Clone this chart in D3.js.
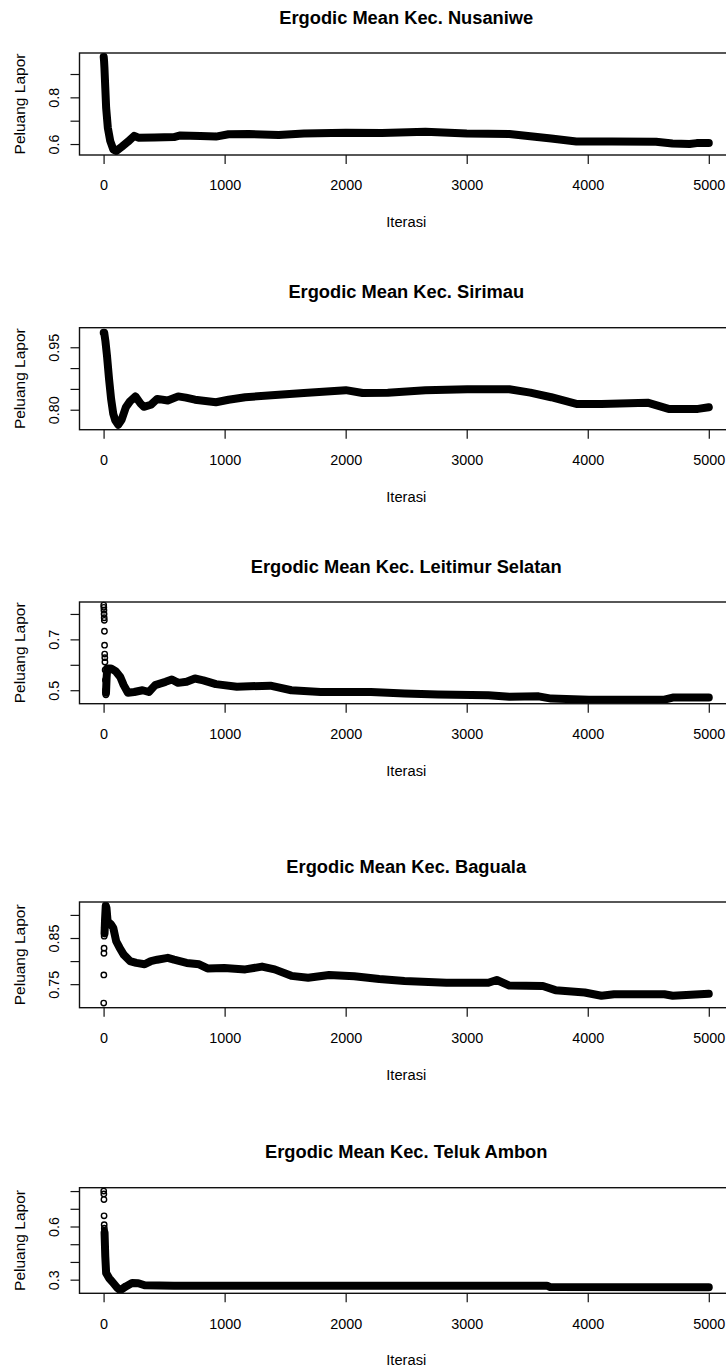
<!DOCTYPE html>
<html lang="en">
<head>
    <meta charset="UTF-8">
    <title>Ergodic Mean Peluang Lapor</title>
    <script src="https://d3js.org/d3.v7.min.js"></script>
    <style>
        body {
            margin: 0;
            padding: 0;
            background-color: #fff;
        }
        text {
            font-family: "Liberation Sans", Arial, sans-serif;
            fill: #000;
        }
        .title {
            font-weight: bold;
            font-size: 18.3px;
        }
        .tick text {
            font-size: 14.4px;
        }
        .xlabel {
            font-size: 14.7px;
        }
        .ylabel {
            font-size: 15.5px;
        }
        .tick line {
            stroke: #111;
            stroke-width: 1.2px;
        }
        .box {
            fill: none;
            stroke: #111;
            stroke-width: 1.4px;
        }
        .band {
            fill: none;
            stroke: #000;
            stroke-width: 8px;
            stroke-linejoin: round;
            stroke-linecap: round;
        }
        .early {
            fill: none;
            stroke: #000;
            stroke-width: 1.4px;
        }
    </style>
</head>
<body>
    <svg id="chart" width="726" height="1372"></svg>

    <script>
        // --- data: [iteration, ergodic mean] ---
        const titles = [
            "Ergodic Mean Kec. Nusaniwe",
            "Ergodic Mean Kec. Sirimau",
            "Ergodic Mean Kec. Leitimur Selatan",
            "Ergodic Mean Kec. Baguala",
            "Ergodic Mean Kec. Teluk Ambon"
        ];

        const xTicks = [0, 1000, 2000, 3000, 4000, 5000];

        const nusaniwe = [
            [1, 0.973], [4, 0.955], [7, 0.927], [14, 0.841], [21, 0.756], [35, 0.67],
            [55, 0.613], [80, 0.577], [104, 0.57], [149, 0.588], [201, 0.61], [253, 0.635],
            [287, 0.627], [420, 0.628], [582, 0.63], [634, 0.637], [800, 0.634], [928, 0.632],
            [1032, 0.642], [1200, 0.643], [1447, 0.639], [1655, 0.645], [2001, 0.648],
            [2300, 0.647], [2659, 0.653], [3000, 0.645], [3352, 0.643], [3525, 0.633],
            [3698, 0.624], [3906, 0.611], [4200, 0.611], [4564, 0.61], [4700, 0.602],
            [4841, 0.6], [4900, 0.604], [5000, 0.604]
        ];

        const sirimau = [
            [1, 0.985], [5, 0.985], [15, 0.965], [28, 0.93], [45, 0.874], [62, 0.826],
            [80, 0.79], [97, 0.774], [121, 0.764], [149, 0.776], [184, 0.806], [218, 0.82],
            [263, 0.832], [305, 0.815], [332, 0.807], [391, 0.812], [443, 0.826], [530, 0.822],
            [616, 0.832], [680, 0.829], [755, 0.824], [928, 0.818], [1032, 0.824], [1170, 0.83],
            [1447, 0.836], [1655, 0.84], [2001, 0.847], [2140, 0.84], [2348, 0.841],
            [2659, 0.847], [3005, 0.849], [3352, 0.849], [3525, 0.841], [3698, 0.83],
            [3906, 0.814], [4113, 0.814], [4494, 0.817], [4668, 0.802], [4910, 0.802],
            [5000, 0.806]
        ];

        const leitimur = [
            [20, 0.49], [25, 0.55], [30, 0.585], [62, 0.585], [100, 0.575], [138, 0.552],
            [166, 0.52], [201, 0.49], [253, 0.493], [322, 0.5], [374, 0.493], [426, 0.52],
            [512, 0.533], [564, 0.542], [616, 0.529], [686, 0.533], [755, 0.546], [824, 0.539],
            [928, 0.524], [1101, 0.514], [1378, 0.518], [1551, 0.5], [1794, 0.493],
            [2209, 0.493], [2486, 0.487], [2763, 0.483], [3179, 0.48], [3352, 0.474],
            [3594, 0.476], [3698, 0.467], [4010, 0.463], [4633, 0.463], [4702, 0.471],
            [5000, 0.471]
        ];
        const leitimurEarly = [
            [1, 0.835], [2, 0.826], [3, 0.815], [4, 0.8], [5, 0.785], [6, 0.775], [7, 0.732],
            [8, 0.677], [9, 0.642], [10, 0.628], [11, 0.611], [13, 0.58], [15, 0.54],
            [17, 0.5], [19, 0.482]
        ];

        const baguala = [
            [8, 0.86], [12, 0.89], [18, 0.92], [24, 0.915], [35, 0.88], [45, 0.883],
            [60, 0.88], [80, 0.872], [104, 0.843], [132, 0.829], [166, 0.814], [218, 0.8],
            [270, 0.796], [339, 0.793], [391, 0.8], [443, 0.803], [530, 0.807], [582, 0.803],
            [686, 0.796], [789, 0.793], [859, 0.784], [997, 0.785], [1170, 0.782],
            [1309, 0.788], [1413, 0.782], [1551, 0.768], [1690, 0.764], [1863, 0.77],
            [2071, 0.767], [2278, 0.761], [2486, 0.757], [2832, 0.753], [3179, 0.753],
            [3248, 0.759], [3352, 0.747], [3629, 0.746], [3733, 0.737], [3975, 0.732],
            [4113, 0.725], [4217, 0.728], [4633, 0.728], [4702, 0.725], [5000, 0.729]
        ];
        const bagualaEarly = [
            [1, 0.709], [2, 0.77], [3, 0.817], [4, 0.828], [5, 0.854], [6, 0.872]
        ];

        const telukAmbon = [
            [8, 0.565], [14, 0.431], [21, 0.338], [45, 0.309], [80, 0.281], [114, 0.253],
            [138, 0.24], [184, 0.262], [235, 0.281], [287, 0.28], [339, 0.268], [582, 0.266],
            [1500, 0.266], [3000, 0.266], [3663, 0.266], [3690, 0.258], [5000, 0.257]
        ];
        const telukAmbonEarly = [
            [1, 0.8], [2, 0.784], [3, 0.752], [4, 0.66], [5, 0.61], [6, 0.59], [7, 0.575]
        ];

        const seriesList = [nusaniwe, sirimau, leitimur, baguala, telukAmbon];
        const earlyList = [[], [], leitimurEarly, bagualaEarly, telukAmbonEarly];

        // y axis ranges and ticks (R only labels the ones that fit)
        const yDomains = [
            [0.553, 0.990], [0.752, 0.997], [0.447, 0.847], [0.699, 0.928], [0.223, 0.819]
        ];
        const yTicks = [
            [0.6, 0.7, 0.8, 0.9],
            [0.80, 0.85, 0.90, 0.95],
            [0.5, 0.6, 0.7, 0.8],
            [0.75, 0.80, 0.85, 0.90],
            [0.3, 0.4, 0.5, 0.6, 0.7, 0.8]
        ];
        const yTickLabels = [
            ["0.6", "", "0.8", ""],
            ["0.80", "", "", "0.95"],
            ["0.5", "", "0.7", ""],
            ["0.75", "", "0.85", ""],
            ["0.3", "", "", "0.6", "", ""]
        ];

        // --- layout ---
        const plotLeft = 79.5;
        const plotRight = 733;
        const boxTops = [53, 327.7, 602, 902, 1187.7];
        const boxBottoms = [155, 429.7, 703.7, 1007.7, 1293.3];

        const svg = d3.select("#chart");

        const x = d3.scaleLinear()
            .domain([-199, 5200])
            .range([plotLeft, plotRight]);

        const centerX = (plotLeft + plotRight) / 2;

        titles.forEach((title, i) => {
            const top = boxTops[i];
            const bottom = boxBottoms[i];

            const y = d3.scaleLinear()
                .domain(yDomains[i])
                .range([bottom, top]);

            const g = svg.append("g");

            // clip so the thick band stays inside the box
            const clipId = "clip" + i;
            g.append("clipPath")
                .attr("id", clipId)
                .append("rect")
                .attr("x", plotLeft)
                .attr("y", top)
                .attr("width", plotRight - plotLeft)
                .attr("height", bottom - top);

            const line = d3.line()
                .x(d => x(d[0]))
                .y(d => y(d[1]));

            g.append("path")
                .datum(seriesList[i])
                .attr("class", "band")
                .attr("clip-path", `url(#${clipId})`)
                .attr("d", line);

            g.selectAll("circle.early")
                .data(earlyList[i])
                .join("circle")
                .attr("class", "early")
                .attr("cx", d => x(d[0]))
                .attr("cy", d => y(d[1]))
                .attr("r", 2.7);

            g.append("rect")
                .attr("class", "box")
                .attr("x", plotLeft)
                .attr("y", top)
                .attr("width", plotRight - plotLeft)
                .attr("height", bottom - top);

            // x axis
            const xAxis = g.append("g")
                .attr("transform", `translate(0,${bottom})`)
                .call(d3.axisBottom(x).tickValues(xTicks).tickSize(9).tickFormat(d3.format("d")));
            xAxis.select(".domain").remove();
            xAxis.selectAll(".tick text")
                .attr("y", 25)
                .attr("dy", "0.71em");

            // y axis, labels parallel to the axis
            const labels = yTickLabels[i];
            const yAxis = g.append("g")
                .attr("transform", `translate(${plotLeft},0)`)
                .call(d3.axisLeft(y).tickValues(yTicks[i]).tickSize(9)
                    .tickFormat((d, k) => labels[k]));
            yAxis.select(".domain").remove();
            yAxis.selectAll(".tick text")
                .attr("x", null)
                .attr("dy", null)
                .attr("text-anchor", "middle")
                .attr("dominant-baseline", "central")
                .attr("transform", "translate(-25.5,0) rotate(-90)");

            g.append("text")
                .attr("class", "title")
                .attr("x", centerX)
                .attr("y", top - 36)
                .attr("text-anchor", "middle")
                .attr("dominant-baseline", "central")
                .text(title);

            g.append("text")
                .attr("class", "xlabel")
                .attr("x", centerX)
                .attr("y", bottom + 67)
                .attr("text-anchor", "middle")
                .attr("dominant-baseline", "central")
                .text("Iterasi");

            g.append("text")
                .attr("class", "ylabel")
                .attr("transform", `translate(19.5,${(top + bottom) / 2}) rotate(-90)`)
                .attr("text-anchor", "middle")
                .attr("dominant-baseline", "central")
                .text("Peluang Lapor");
        });
    </script>
</body>
</html>
